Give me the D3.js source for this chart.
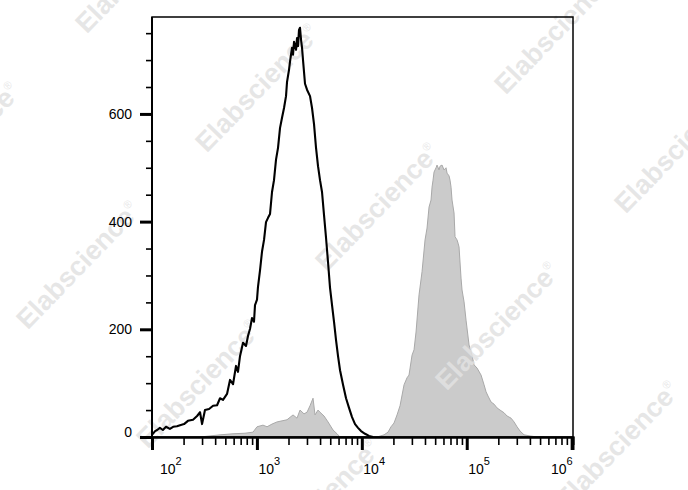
<!DOCTYPE html>
<html><head><meta charset="utf-8">
<script src="https://cdn.jsdelivr.net/npm/d3@7"></script>
<style>body{margin:0;background:#fff}svg{display:block}</style>
</head><body><svg id="c" width="688" height="490"></svg>
<script>
// Unstained / isotype control histogram (black outline)
const blackX = [100,107,112,119,127,136,148,159,173,185,202,220,246,269,287,300,320,350,382,417,445,475,519,554,592,632,660,690,737,787,823,860,898,938,959,1002,1024,1071,1118,1169,1221,1276,1333,1393,1455,1521,1589,1661,1735,1813,1894,1936,2023,2068,2161,2209,2258,2359,2412,2465,2519,2575,2633,2691,2751,2874,3003,3208,3352,3502,3660,3824,3995,4174,4362,4558,4762,4977,5200,5433,5677,5932,6198,6620,7071,7551,8065,8614,9201,9826,10730,11710,12790];
const blackY = [4,11,13,17,13,19,15,19,20,22,24,30,32,39,46,24,50,52,58,59,72,69,80,106,98,132,121,150,175,169,188,201,221,214,245,255,279,310,344,366,399,407,414,455,477,515,537,574,593,611,633,659,682,697,723,710,734,719,741,726,756,760,738,723,700,656,645,633,611,581,537,503,477,455,412,370,325,277,245,214,180,150,124,97,72,54,37,24,17,11,6,2,0];
// Stained sample histogram (grey filled)
const greyX = [287,357,445,592,770,918,1002,1143,1249,1393,1555,1735,1936,2209,2412,2575,2812,3003,3208,3426,3580,3824,3995,4362,4762,5315,5802,6198,13960,16280,17770,18980,20280,21660,23130,25260,26970,28180,30100,31450,32860,35100,37490,40040,41840,43710,45670,46690,47730,48780,50980,52110,54450,55660,58160,60760,63490,64900,67810,69310,70850,72430,75680,77360,80830,82630,84460,88250,90200,94260,98470,105200,112300,117400,125400,136900,146200,152800,159600,170500,182100,194500,207700,226800,242300,264500,282500,301700,322300,351800,401300,468000,545800];
const greyY = [0,2,4,6,7,9,19,22,19,24,28,30,32,41,35,50,43,46,58,72,41,50,46,39,28,13,6,0,0,4,9,19,26,41,58,97,110,115,152,162,195,264,307,366,388,427,440,464,477,492,500,505,496,503,505,496,500,490,485,477,464,440,416,372,366,360,353,295,273,251,217,171,152,134,128,115,97,84,76,65,61,54,50,45,39,35,28,19,11,4,2,0,0];
const xTickExponents = [2,3,4,5,6];
const yMajorTicks = [0,200,400,600];
const yMinorTicks = [0,50,100,150,200,250,300,350,400,450,500,550,600,650,700,750];
const watermarkText = "Elabscience";

const svg = d3.select("#c");
const L = 152, R = 573, T = 17, B = 437;
const x = d3.scaleLog().domain([100, 1.03e6]).range([L, R]);
const y = d3.scaleLinear().domain([0, 780]).range([B, T]);
const font = "'Liberation Sans', Arial, Helvetica, sans-serif";

const black = blackX.map((v,i)=>[v, blackY[i]]);
const grey = greyX.map((v,i)=>[v, greyY[i]]);

// grey filled histogram
svg.append("path").datum(grey)
  .attr("d", d3.area().x(d=>x(d[0])).y0(y(0)).y1(d=>y(d[1])))
  .attr("fill", "#cbcbcb").attr("stroke", "#a9a9a9").attr("stroke-width", 1);

// watermarks
const origin = [257, 88], u = [120, 119], v = [179, -177];
const wm = svg.append("g").attr("pointer-events","none");
for (let i=-2;i<=4;i++) for (let j=-2;j<=2;j++) {
  const cx = origin[0] + i*u[0] + j*v[0], cy = origin[1] + i*u[1] + j*v[1];
  if (cx < -150 || cx > 840 || cy < -150 || cy > 640) continue;
  const t = wm.append("text")
    .attr("transform", `translate(${cx},${cy}) rotate(-46)`)
    .attr("text-anchor","middle").attr("dy","0.35em")
    .attr("font-family", font).attr("font-weight","bold").attr("font-size", 27)
    .attr("fill", "#e2e2e2").attr("fill-opacity", 0.85);
  t.append("tspan").text(watermarkText);
  t.append("tspan").attr("font-size", 11).attr("dy", "-1.1em").attr("font-weight","normal").text("®");
}

// black outline histogram
svg.append("path").datum(black)
  .attr("d", d3.line().x(d=>x(d[0])).y(d=>y(d[1])))
  .attr("fill", "none").attr("stroke", "#000").attr("stroke-width", 2.1).attr("stroke-linejoin","round");

// frame
svg.append("rect").attr("x", L).attr("y", T).attr("width", R-L).attr("height", B-T)
  .attr("fill","none").attr("stroke","#000").attr("stroke-width",1.5);

// x axis
const minorX = [];
for (let e=2;e<6;e++) for (let m=2;m<=9;m++) minorX.push(m*Math.pow(10,e));
const gxMinor = svg.append("g").attr("transform",`translate(0,${B})`)
  .call(d3.axisBottom(x).tickValues(minorX).tickSize(8).tickFormat(""));
gxMinor.selectAll("line").attr("stroke-width",1.6);
const majorX = xTickExponents.map(e=>Math.pow(10,e));
const gxMajor = svg.append("g").attr("transform",`translate(0,${B})`)
  .call(d3.axisBottom(x).tickValues(majorX).tickSize(13).tickFormat(""));
gxMajor.selectAll("line").attr("stroke-width",3);
[gxMinor,gxMajor].forEach(g=>g.select(".domain").attr("stroke-width",2));

const xl = svg.append("g").attr("font-family",font).attr("fill","#000");
xTickExponents.forEach((e,i)=>{
  const px = x(Math.pow(10,e));
  const last = i === xTickExponents.length-1, first = i===0;
  const t = xl.append("text").attr("y", 473.5).attr("font-size",14)
    .attr("x", first ? px+8 : px+1.5).attr("text-anchor", last ? "end" : "start");
  if (last) t.attr("x", px+1);
  t.append("tspan").text("10");
  t.append("tspan").attr("font-size",11).attr("dy",-8.5).text(String(e));
});

// y axis
const gyMinor = svg.append("g").attr("transform",`translate(${L},0)`)
  .call(d3.axisLeft(y).tickValues(yMinorTicks).tickSize(6).tickFormat(""));
gyMinor.selectAll("line").attr("stroke-width",1.6);
const gyMajor = svg.append("g").attr("transform",`translate(${L},0)`)
  .call(d3.axisLeft(y).tickValues(yMajorTicks).tickSize(12).tickPadding(8));
gyMajor.selectAll("line").attr("stroke-width",3);
[gyMinor,gyMajor].forEach(g=>g.select(".domain").attr("stroke-width",2).attr("d",`M0,${B}V${T}`));
gyMajor.selectAll("text").attr("font-family",font).attr("font-size",14).attr("fill","#000")
  .filter(d=>d===0).attr("dy","-0.05em");
</script>
</body></html>
